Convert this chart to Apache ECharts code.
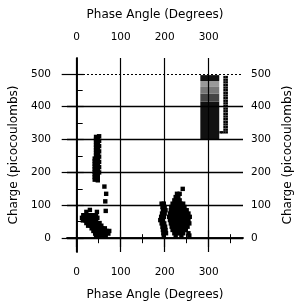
<!DOCTYPE html>
<html><head><meta charset="utf-8">
<script src="https://cdn.jsdelivr.net/npm/echarts@6/dist/echarts.min.js"></script>
<style>html,body{margin:0;padding:0;background:#fff}#c{width:302px;height:306px}</style>
</head><body><div id="c"></div>
<script>
// axis ranges and ticks
const xRange = [-22, 378];
const yRange = [-42, 548];
const xMajor = [0, 100, 200, 300];
const xMinor = [50, 150, 250, 350];
const yMajor = [0, 100, 200, 300, 400, 500];
const yMinor = [50, 150, 250, 350, 450];
const xTitle = 'Phase Angle (Degrees)';
const yTitle = 'Charge (picocoulombs)';

// cluster near 0-75 degrees
const clusterA = [
  [22,80],[46,80],[66,83],[30,86],
  [15,70],[20,70],[26,70],[32,70],[38,70],[44,70],
  [12,62],[17,62],[23,62],[29,62],[35,62],[41,62],[47,62],
  [14,54],[20,54],[26,54],[32,54],[38,54],[44,54],
  [22,46],[28,46],[34,46],[40,46],[46,46],[52,46],
  [26,38],[32,38],[38,38],[44,38],[50,38],[56,38],
  [34,30],[40,30],[46,30],[52,30],[58,30],[64,30],
  [38,22],[44,22],[50,22],[56,22],[62,22],[68,22],[74,22],
  [42,14],[48,14],[54,14],[60,14],[66,14],[72,14],
  [44,8],[50,8],[58,8],[66,8],
  [65,112],[67,135],[63,157]
];
// vertical streak near 45 degrees
const streak = [
  [44,180],[44,188],[44,196],[44,204],[44,212],[44,220],[44,228],[44,236],[44,244],[44,252],[44,260],[44,268],[44,276],[44,284],[44,292],[44,300],[44,308],
  [48,176],[48,184],[48,192],[48,200],[48,208],[48,216],[48,224],[48,232],[48,240],[48,248],[48,256],[48,264],[48,272],[48,280],[48,288],[48,296],[48,304],
  [41,178],[41,186],[41,194],[41,202],[41,210],[41,218],[41,226],[41,234],[41,242],
  [51,200],[51,216],[51,232],[51,248],[51,264],[51,280],[51,296],[51,310]
];
// cluster near 190-260 degrees
const clusterB = [
  [241,150],[228,135],[234,135],[225,125],[231,125],[222,115],[228,115],[234,115],
  [193,105],[198,105],[218,105],[224,105],[230,105],[236,105],[242,105],
  [195,95],[200,95],[215,95],[221,95],[227,95],[233,95],[239,95],[245,95],
  [196,85],[202,85],[214,85],[220,85],[226,85],[232,85],[238,85],[244,85],[250,85],
  [194,75],[200,75],[212,75],[218,75],[224,75],[230,75],[236,75],[242,75],[248,75],[254,75],
  [192,65],[198,65],[210,65],[216,65],[222,65],[228,65],[234,65],[240,65],[246,65],[252,65],[257,65],
  [190,55],[196,55],[212,55],[218,55],[224,55],[230,55],[236,55],[242,55],[248,55],[254,55],
  [193,45],[199,45],[214,45],[220,45],[226,45],[232,45],[238,45],[244,45],[250,45],[256,45],
  [195,35],[201,35],[216,35],[222,35],[228,35],[234,35],[240,35],[246,35],[252,35],
  [196,25],[202,25],[218,25],[224,25],[230,25],[236,25],[242,25],[248,25],
  [197,15],[203,15],[222,15],[228,15],[236,15],[242,15],[254,15],
  [198,8],[225,8],[238,8],[256,8]
];
// scale ladder beside the shade box
const ladder = [
  [327,322],[331,322],
  [336,322],[341,322],[336,330],[341,330],[336,338],[341,338],[336,346],[341,346],
  [336,354],[341,354],[336,362],[341,362],[336,370],[341,370],[336,378],[341,378],
  [336,386],[341,386],[336,394],[341,394],[336,402],[341,402],[336,410],[341,410],
  [336,418],[341,418],[336,426],[341,426],[336,434],[341,434],[336,442],[341,442],
  [336,450],[341,450],[336,458],[341,458],[336,466],[341,466],[336,474],[341,474],
  [336,482],[341,482],[336,490],[341,490]
];
// shade box bands: [deg0, deg1, pC0, pC1, shade]
const shadeBands = [
  [281,324,300,415,'#111'],
  [281,324,415,440,'#444'],
  [281,324,440,460,'#777'],
  [281,324,460,478,'#999'],
  [281,324,478,496,'#111']
];

const FONT = 'DejaVu Sans';
const lab = {color:'#000', fontFamily:FONT, fontSize:10.5};
const nameStyle = {color:'#000', fontFamily:FONT, fontSize:12};

const chart = echarts.init(document.getElementById('c'), null, {renderer:'canvas'});
const base = {min:xRange[0], max:xRange[1], type:'value', splitLine:{show:false}};
const ybase = {min:yRange[0], max:yRange[1], type:'value', splitLine:{show:false}};
const gridLines = [];
yMajor.forEach(v => gridLines.push({yAxis:v, lineStyle:{type: v===500?[2,2]:'solid', width: v===500?1:1.3, color:'#000'}}));
xMajor.forEach(v => gridLines.push({xAxis:v, lineStyle:{type:'solid', width:1.2, color:'#000'}}));

chart.setOption({
  animation:false,
  backgroundColor:'#fff',
  grid:{left:67, right:56, top:58, bottom:53, show:false},
  xAxis:[
    Object.assign({}, base, {position:'bottom',
      axisLine:{show:true, lineStyle:{color:'#000', width:1.5}},
      axisTick:{show:true, customValues:xMajor, length:9, lineStyle:{color:'#000', width:1.2}},
      axisLabel:{customValues:xMajor, margin:15, ...lab},
      name:xTitle, nameLocation:'middle', nameGap:37, nameTextStyle:nameStyle}),
    Object.assign({}, base, {position:'top',
      axisLine:{show:true, lineStyle:{color:'#000', width:1.5}},
      axisTick:{show:true, customValues:xMajor, length:8, lineStyle:{color:'#000', width:1.2}},
      axisLabel:{customValues:xMajor, margin:15, ...lab},
      name:xTitle, nameLocation:'middle', nameGap:37, nameTextStyle:nameStyle}),
    Object.assign({}, base, {position:'bottom', axisLine:{show:false},
      axisTick:{show:true, customValues:xMinor, length:5, lineStyle:{color:'#000', width:1}},
      axisLabel:{show:false}}),
    Object.assign({}, base, {position:'top', axisLine:{show:false},
      axisTick:{show:true, customValues:xMinor, length:4, lineStyle:{color:'#000', width:1}},
      axisLabel:{show:false}})
  ],
  yAxis:[
    Object.assign({}, ybase, {position:'left',
      axisLine:{show:true, lineStyle:{color:'#000', width:1.5}},
      axisTick:{show:true, customValues:yMajor, length:15, lineStyle:{color:'#000', width:1.2}},
      axisLabel:{customValues:yMajor, margin:16, ...lab},
      name:yTitle, nameLocation:'middle', nameRotate:90, nameGap:45, nameTextStyle:nameStyle}),
    Object.assign({}, ybase, {position:'right',
      axisLine:{show:true, lineStyle:{color:'#000', width:1.5}},
      axisTick:{show:true, customValues:yMajor, length:7, lineStyle:{color:'#000', width:1.2}},
      axisLabel:{customValues:yMajor, margin:8, ...lab},
      name:yTitle, nameLocation:'middle', nameRotate:90, nameGap:39, nameTextStyle:nameStyle}),
    Object.assign({}, ybase, {position:'left', axisLine:{show:false},
      axisTick:{show:true, inside:true, customValues:yMinor, length:6, lineStyle:{color:'#000', width:1}},
      axisLabel:{show:false}}),
    Object.assign({}, ybase, {position:'right', axisLine:{show:false},
      axisTick:{show:true, customValues:yMinor, length:4, lineStyle:{color:'#000', width:1}},
      axisLabel:{show:false}})
  ],
  series:[
    {type:'scatter', xAxisIndex:0, yAxisIndex:0, data:[], z:1, silent:true,
      markLine:{silent:true, symbol:'none', label:{show:false}, data:gridLines, animation:false}},
    {type:'custom', xAxisIndex:0, yAxisIndex:0, z:3, silent:true, data:shadeBands,
      renderItem:function(params, api){
        const p0 = api.coord([api.value(0), api.value(3)]);
        const p1 = api.coord([api.value(1), api.value(2)]);
        return {type:'rect', shape:{x:p0[0], y:p0[1], width:p1[0]-p0[0], height:p1[1]-p0[1]},
          style:{fill:shadeBands[params.dataIndex][4]}};
      }},
    {type:'scatter', xAxisIndex:0, yAxisIndex:0, z:4, symbol:'rect', symbolSize:4.4, silent:true,
      itemStyle:{color:'#000', opacity:1}, data:clusterA.concat(streak, clusterB)},
    {type:'scatter', xAxisIndex:0, yAxisIndex:0, z:4, symbol:'rect', symbolSize:2.4, silent:true,
      itemStyle:{color:'#000', opacity:1}, data:ladder}
  ]
});
</script></body></html>
